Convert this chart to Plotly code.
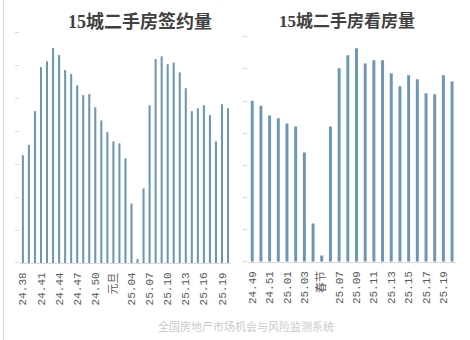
import plotly.graph_objects as go

# ---- data ----
left_weeks = ["24.38", "24.39", "24.40", "24.41", "24.42", "24.43", "24.44", "24.45", "24.46",
              "24.47", "24.48", "24.49", "24.50", "24.51", "24.52", "25.01", "25.02", "25.03",
              "25.04", "25.05", "25.06", "25.07", "25.08", "25.09", "25.10", "25.11", "25.12",
              "25.13", "25.14", "25.15", "25.16", "25.17", "25.18", "25.19", "25.20"]
left_values = [3.28, 3.59, 4.62, 5.96, 6.14, 6.54, 6.33, 5.87, 5.75, 5.41, 5.11, 5.14, 4.74,
               4.34, 3.98, 3.70, 3.64, 3.19, 1.81, 0.12, 2.27, 4.80, 6.21, 6.29, 6.05, 6.10,
               5.80, 5.32, 4.62, 4.71, 4.80, 4.50, 3.70, 4.83, 4.71]
left_tickvals = ["24.38", "24.41", "24.44", "24.47", "24.50", "25.01", "25.04", "25.07",
                 "25.10", "25.13", "25.16", "25.19"]
left_ticktext = ["24.38", "24.41", "24.44", "24.47", "24.50", "元旦", "25.04", "25.07",
                 "25.10", "25.13", "25.16", "25.19"]

right_weeks = ["24.49", "24.50", "24.51", "24.52", "25.01", "25.02", "25.03", "25.04", "25.05",
               "25.06", "25.07", "25.08", "25.09", "25.10", "25.11", "25.12", "25.13", "25.14",
               "25.15", "25.16", "25.17", "25.18", "25.19", "25.20"]
right_values = [5.01, 4.85, 4.55, 4.46, 4.30, 4.21, 3.40, 1.19, 0.19, 4.21, 6.02, 6.42, 6.64,
                6.17, 6.27, 6.27, 5.86, 5.46, 5.80, 5.68, 5.24, 5.21, 5.80, 5.61]
right_tickvals = ["24.49", "24.51", "25.01", "25.03", "25.05", "25.07", "25.09", "25.11",
                  "25.13", "25.15", "25.17", "25.19"]
right_ticktext = ["24.49", "24.51", "25.01", "25.03", "春节", "25.07", "25.09", "25.11",
                  "25.13", "25.15", "25.17", "25.19"]

titles = ["15城二手房签约量", "15城二手房看房量"]
watermark = "全国房地产市场机会与风险监测系统"

BAR = "#6b96b4"
AXIS = "#d9d9d9"
TICKFONT = dict(family="Liberation Mono, Noto Sans CJK SC", size=11, color="#595959")

fig = go.Figure()
fig.add_trace(go.Bar(x=left_weeks, y=left_values, marker=dict(color=BAR, line=dict(width=0)),
                     xaxis="x", yaxis="y", showlegend=False))
fig.add_trace(go.Bar(x=right_weeks, y=right_values, marker=dict(color=BAR, line=dict(width=0)),
                     xaxis="x2", yaxis="y2", showlegend=False))

common_x = dict(type="category", showline=True, linecolor=AXIS, linewidth=1, ticks="",
                tickangle=-90, tickfont=TICKFONT, showgrid=False, zeroline=False,
                tickmode="array", ticklabelstandoff=4)
common_y = dict(range=[0, 7], dtick=1, tick0=0, showgrid=False, zeroline=False, showline=False,
                ticks="outside", ticklen=4, tickcolor=AXIS, showticklabels=False)

fig.update_layout(
    width=470, height=340,
    margin=dict(l=0, r=0, t=0, b=0),
    paper_bgcolor="white", plot_bgcolor="white",
    bargap=0.66,
    xaxis=dict(domain=[0.0382, 0.4894], anchor="y", tickvals=left_tickvals,
               ticktext=left_ticktext, **common_x),
    yaxis=dict(domain=[0.2265, 0.903], anchor="x", **common_y),
    xaxis2=dict(domain=[0.5254, 0.9710], anchor="y2", tickvals=right_tickvals,
                ticktext=right_ticktext, **common_x),
    yaxis2=dict(domain=[0.2303, 0.892], anchor="x2", **common_y),
    annotations=[
        dict(text="<b>" + titles[0] + "</b>", x=0.2957, y=0.938, xref="paper", yref="paper",
             showarrow=False, xanchor="center", yanchor="middle",
             font=dict(family="Liberation Serif, Noto Sans CJK SC", size=18, color="#404040")),
        dict(text="<b>" + titles[1] + "</b>", x=0.737, y=0.938, xref="paper", yref="paper",
             showarrow=False, xanchor="center", yanchor="middle",
             font=dict(family="Liberation Serif, Noto Sans CJK SC", size=17, color="#404040")),
        dict(text=watermark, x=0.521, y=0.041, xref="paper", yref="paper",
             showarrow=False, xanchor="center", yanchor="middle",
             font=dict(family="Noto Sans CJK SC", size=11, color="#cacaca")),
    ],
    shapes=[dict(type="line", xref="paper", yref="paper", x0=0.003, x1=0.003, y0=0, y1=1,
                 line=dict(color="#d8d8d8", width=1))],
)

fig.write_html("out.html")
